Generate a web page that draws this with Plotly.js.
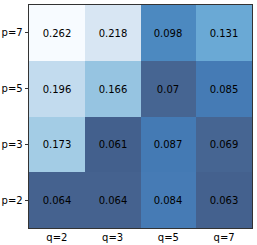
<!DOCTYPE html>
<html>
<head>
<meta charset="utf-8">
<script src="https://cdn.plot.ly/plotly-3.0.1.min.js"></script>
<style>html,body{margin:0;padding:0;background:#fff;}#chart{width:257px;height:245px;}</style>
</head>
<body>
<div id="chart"></div>
<script>
const qLabels = ['q=2', 'q=3', 'q=5', 'q=7'];
const pLabels = ['p=2', 'p=3', 'p=5', 'p=7'];
const rowP2 = [0.064, 0.064, 0.084, 0.063];
const rowP3 = [0.173, 0.061, 0.087, 0.069];
const rowP5 = [0.196, 0.166, 0.07, 0.085];
const rowP7 = [0.262, 0.218, 0.098, 0.131];

const z = [rowP2, rowP3, rowP5, rowP7];
const text = z.map(r => r.map(v => String(v)));

const zmin = 0.061, zmax = 0.262;
const stopsV = [0.061, 0.064, 0.070, 0.078, 0.084, 0.087, 0.098, 0.131, 0.166, 0.173, 0.196, 0.218, 0.262];
const stopsC = ['#43608d', '#45628f', '#466592', '#4670a3', '#467bb5', '#447ab4', '#4c89c0', '#6aa9d5', '#96c4e1', '#a3cce5', '#c2dbee', '#d8e6f3', '#f7fbff'];
const colorscale = stopsV.map((v, i) => [(v - zmin) / (zmax - zmin), stopsC[i]]);

Plotly.newPlot('chart', [{
  type: 'heatmap',
  x: qLabels,
  y: pLabels,
  z: z,
  text: text,
  texttemplate: '%{text}',
  textfont: {family: 'DejaVu Sans', size: 10, color: '#000'},
  colorscale: colorscale,
  zmin: zmin,
  zmax: zmax,
  showscale: false,
  hoverinfo: 'skip'
}], {
  width: 257,
  height: 245,
  margin: {l: 29, r: 5, t: 5, b: 17},
  paper_bgcolor: '#fff',
  plot_bgcolor: '#fff',
  font: {family: 'DejaVu Sans', size: 10, color: '#000'},
  xaxis: {
    type: 'category',
    ticks: '', 
    showline: true, linecolor: '#000', linewidth: 0.8, mirror: true,
    showgrid: false, zeroline: false,
    tickfont: {family: 'DejaVu Sans', size: 10, color: '#000'}
  },
  xaxis2: {
    type: 'category',
    categoryarray: qLabels,
    categoryorder: 'array',
    overlaying: 'x',
    matches: 'x',
    anchor: 'y',
    side: 'bottom',
    ticks: 'outside', ticklen: 3.5, tickwidth: 0.8, tickcolor: '#000',
    showticklabels: false,
    showline: false, showgrid: false, zeroline: false
  },
  yaxis: {
    type: 'category',
    ticks: 'outside', ticklen: 3.5, tickwidth: 0.8, tickcolor: '#000',
    showline: true, linecolor: '#000', linewidth: 0.8, mirror: true,
    showgrid: false, zeroline: false,
    tickfont: {family: 'DejaVu Sans', size: 10, color: '#000'}
  }
}, {staticPlot: true, displayModeBar: false});
</script>
</body>
</html>
